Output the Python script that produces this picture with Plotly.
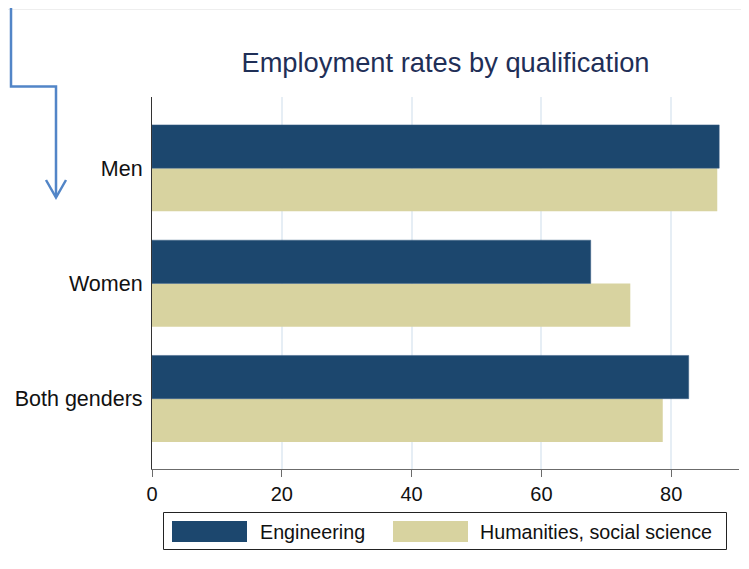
import plotly.graph_objects as go

# ---- data ----
categories = ["Both genders", "Women", "Men"]
engineering = [82.7, 67.6, 87.4]
humanities = [78.7, 73.7, 87.1]
series_names = ["Engineering", "Humanities, social science"]
x_ticks = [0, 20, 40, 60, 80]

# ---- styling ----
W, H = 749, 569
OFF = 8  # page body margin offset
# plot area in screen pixels: x 152..739, y 97..469
SX0, SX1, SY0, SY1 = 152, 739, 97, 469
L, T = SX0 - OFF, SY0 - OFF
R, B = W - (SX1 - OFF), H - (SY1 - OFF)
PW, PH = W - L - R, H - T - B
ENG_COLOR = "#1c476e"
HUM_COLOR = "#d8d3a0"
FONT = "Liberation Sans, Arial, sans-serif"


def px(x):
    return (x - SX0) / PW


def py(y):
    return (SY1 - y) / PH


fig = go.Figure()
fig.add_trace(go.Bar(
    y=categories, x=humanities, orientation="h", name=series_names[1],
    marker=dict(color=HUM_COLOR, line=dict(width=0)), showlegend=False,
))
fig.add_trace(go.Bar(
    y=categories, x=engineering, orientation="h", name=series_names[0],
    marker=dict(color=ENG_COLOR, line=dict(color="#3a5f85", width=0.5)), showlegend=False,
))

shapes = []
# faint top rule
shapes.append(dict(type="line", xref="paper", yref="paper",
                   x0=px(0), x1=px(W + 20), y0=py(9.5), y1=py(9.5),
                   line=dict(color="#eeeeee", width=1)))
# arrow
arrow_color = "#5285c7"
path = "M {} {} L {} {} L {} {} L {} {}".format(
    px(11), py(-5), px(11), py(86.5), px(56), py(86.5), px(56), py(197))
shapes.append(dict(type="path", xref="paper", yref="paper", path=path,
                   line=dict(color=arrow_color, width=2.5)))
head = "M {} {} L {} {} L {} {}".format(
    px(46), py(180), px(56), py(197.5), px(66), py(180))
shapes.append(dict(type="path", xref="paper", yref="paper", path=head,
                   line=dict(color=arrow_color, width=2.5)))
# custom legend
shapes.append(dict(type="rect", xref="paper", yref="paper",
                   x0=px(163.5), x1=px(726.5), y0=py(512.5), y1=py(549.5),
                   line=dict(color="#222222", width=1), fillcolor="white"))
shapes.append(dict(type="rect", xref="paper", yref="paper",
                   x0=px(172), x1=px(247), y0=py(521), y1=py(542),
                   line=dict(width=0), fillcolor=ENG_COLOR))
shapes.append(dict(type="rect", xref="paper", yref="paper",
                   x0=px(393), x1=px(468), y0=py(521), y1=py(542),
                   line=dict(width=0), fillcolor=HUM_COLOR))

annotations = [
    dict(text=series_names[0], xref="paper", yref="paper", x=px(258), y=py(531.5),
         xanchor="left", yanchor="middle", showarrow=False,
         font=dict(family=FONT, size=19.7, color="#111111")),
    dict(text=series_names[1], xref="paper", yref="paper", x=px(478), y=py(531.5),
         xanchor="left", yanchor="middle", showarrow=False,
         font=dict(family=FONT, size=19.7, color="#111111")),
]

fig.update_layout(
    width=W, height=H,
    margin=dict(l=L, r=R, t=T, b=B, pad=0, autoexpand=False),
    paper_bgcolor="white", plot_bgcolor="white",
    barmode="group", bargap=0.25, bargroupgap=0,
    title=dict(text="Employment rates by qualification", x=0.5, xref="paper",
               xanchor="center", y=1 - (62 - OFF) / H, yref="container", yanchor="middle",
               font=dict(family=FONT, size=27.3, color="#1f2f57")),
    font=dict(family=FONT, size=20, color="#111111"),
    shapes=shapes, annotations=annotations,
    showlegend=False,
)
fig.update_xaxes(
    range=[0, 90.45], tickvals=x_ticks, ticktext=[str(v) for v in x_ticks],
    showgrid=True, gridcolor="#e6eef5", gridwidth=1.5,
    showline=True, linecolor="#6b6b6b", linewidth=1.2,
    ticks="outside", ticklen=7, tickcolor="#6b6b6b", tickwidth=1,
    tickfont=dict(family=FONT, size=20, color="#111111"),
    zeroline=False, fixedrange=True, automargin=False,
)
fig.update_yaxes(
    type="category", categoryorder="array", categoryarray=categories,
    range=[-0.61, 2.617],
    showgrid=False, showline=True, linecolor="#333333", linewidth=1.2,
    ticks="", ticklabelstandoff=4,
    tickfont=dict(family=FONT, size=21.5, color="#111111"),
    zeroline=False, fixedrange=True, automargin=False,
)

fig.write_html("out.html")
